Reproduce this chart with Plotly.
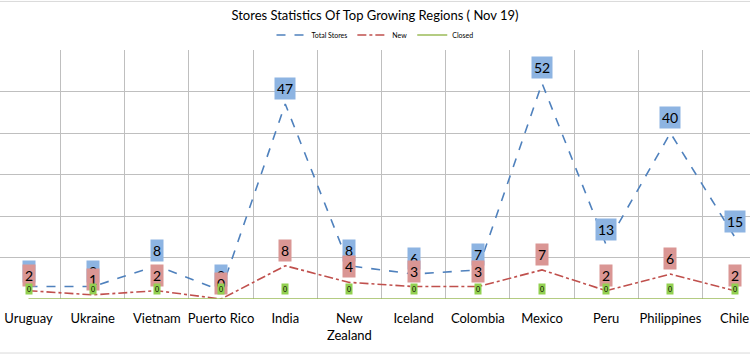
import plotly.graph_objects as go

categories = ["Uruguay", "Ukraine", "Vietnam", "Puerto Rico", "India", "New<br>Zealand",
              "Iceland", "Colombia", "Mexico", "Peru", "Philippines", "Chile"]
total_stores = [3, 3, 8, 2, 47, 8, 6, 7, 52, 13, 40, 15]
new_stores = [2, 1, 2, 0, 8, 4, 3, 3, 7, 2, 6, 2]
closed_stores = [0, 0, 0, 0, 0, 0, 0, 0, 0, 0, 0, 0]

FONT = "Lato"
BLUE, RED, GREEN = "#4F81BD", "#C0504D", "#9BBB59"

fig = go.Figure()
fig.add_trace(go.Scatter(x=categories, y=total_stores, name="Total Stores", mode="lines",
                         line=dict(color=BLUE, width=1.6, dash="dash")))
fig.add_trace(go.Scatter(x=categories, y=new_stores, name="New", mode="lines",
                         line=dict(color=RED, width=1.6, dash="dashdot")))
fig.add_trace(go.Scatter(x=categories, y=closed_stores, name="Closed", mode="lines",
                         line=dict(color=GREEN, width=1.6)))

annotations = []
for vals, bg, shift, size in [(total_stores, "#8DB4E2", 15.5, 14),
                              (new_stores, "#DA9694", 15.5, 14),
                              (closed_stores, "#92D050", 10, 7)]:
    for c, v in zip(categories, vals):
        annotations.append(dict(x=c, y=v, text=str(v), showarrow=False, yshift=shift,
                                bgcolor=bg, borderpad=2 if size > 10 else 1,
                                font=dict(family=FONT, size=size, color="#000000")))

shapes = [
    dict(type="line", xref="paper", yref="paper", x0=0, x1=1, y0=1.195, y1=1.195,
         line=dict(color="#D9D9D9", width=1)),
    dict(type="line", xref="paper", yref="paper", x0=0, x1=1, y0=-0.217, y1=-0.217,
         line=dict(color="#D9D9D9", width=1)),
]

fig.update_layout(
    width=750, height=357,
    margin=dict(l=0, r=0, t=50, b=58),
    paper_bgcolor="white", plot_bgcolor="white",
    title=dict(text="Stores Statistics Of Top Growing Regions ( Nov 19)", x=0.5, xanchor="center",
               y=1 - 15 / 357, yanchor="middle", font=dict(family=FONT, size=13, color="#000000")),
    legend=dict(orientation="h", x=0.5, xanchor="center", y=1.06, yanchor="middle",
                font=dict(family=FONT, size=7, color="#000000"), bgcolor="rgba(0,0,0,0)"),
    xaxis=dict(type="category", range=[-0.444, 11.24], tickson="boundaries", showgrid=True,
               gridcolor="#BFBFBF", gridwidth=1, ticks="", showline=False, zeroline=False,
               tickangle=0, automargin=False,
               tickfont=dict(family=FONT, size=13, color="#000000"), ticklabelstandoff=10),
    yaxis=dict(range=[0, 60], dtick=10, showgrid=True, gridcolor="#BFBFBF", gridwidth=1,
               showticklabels=False, zeroline=False, showline=False, automargin=False),
    annotations=annotations,
    shapes=shapes,
    showlegend=True,
)

fig.write_html("out.html", config={"displayModeBar": False},
               post_script="document.body.style.margin='0';")
